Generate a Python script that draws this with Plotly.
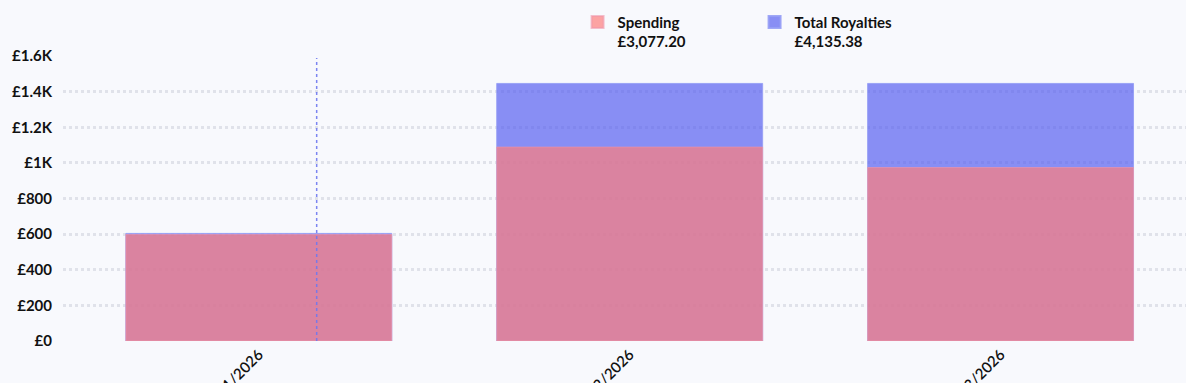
import plotly.graph_objects as go

categories = ["01/2026", "02/2026", "03/2026"]
spending = [598, 1089, 974]
royalties = [604, 1446, 1446]
legend_totals = {"Spending": "£3,077.20", "Total Royalties": "£4,135.38"}
y_tickvals = [0, 200, 400, 600, 800, 1000, 1200, 1400, 1600]
y_ticktext = ["£0", "£200", "£400", "£600", "£800", "£1K", "£1.2K", "£1.4K", "£1.6K"]

BG = "#f8f9fd"
FONT = "Lato"

fig = go.Figure()
fig.add_trace(go.Bar(
    x=categories, y=royalties, name="Total Royalties<br>" + legend_totals["Total Royalties"],
    marker=dict(color="rgba(88,97,239,0.7)", line=dict(color="rgba(150,158,245,0.9)", width=1)),
    width=0.717, legendrank=2,
))
fig.add_trace(go.Bar(
    x=categories, y=spending, name="Spending<br>" + legend_totals["Spending"],
    marker=dict(color="rgba(253,127,124,0.7)", line=dict(color="rgba(240,150,170,0.6)", width=1)),
    width=0.717, legendrank=1,
))

fig.add_shape(type="line", xref="x", yref="paper", x0=0.156, x1=0.156, y0=0, y1=0.993,
              line=dict(color="rgba(110,120,240,0.9)", width=1.5, dash="dot"))

fig.update_layout(
    width=1186, height=383,
    barmode="overlay",
    paper_bgcolor=BG, plot_bgcolor=BG,
    margin=dict(l=63, r=0, t=56, b=42, autoexpand=False),
    font=dict(family=FONT, color="#111111", size=14),
    showlegend=True,
    legend=dict(orientation="h", x=0.487, xanchor="left", xref="container",
                y=0.985, yref="container", yanchor="top",
                valign="top", entrywidth=132, entrywidthmode="pixels",
                font=dict(family=FONT, size=15, color="#111111", weight=700),
                bgcolor="rgba(0,0,0,0)", itemsizing="constant", traceorder="normal"),
    xaxis=dict(range=[-0.528, 2.5], showgrid=False, zeroline=False, showline=False,
               tickangle=-45, tickfont=dict(family=FONT, size=15, color="#111111", weight=600),
               ticks="", automargin=False, ticklabelstandoff=1),
    yaxis=dict(range=[0, 1600], tickvals=y_tickvals, ticktext=y_ticktext,
               showgrid=True, gridcolor="#e0e2ea", gridwidth=3, griddash="dot",
               zeroline=False, showline=False, ticks="", ticklabelstandoff=10, automargin=False,
               tickfont=dict(family=FONT, size=15, color="#111111", weight=700)),
)

fig.write_html(
    "out.html",
    config={"displayModeBar": False},
    post_script="document.body.style.margin='0';document.body.style.background='#f8f9fd';"
                "document.body.style.overflow='hidden';",
)
